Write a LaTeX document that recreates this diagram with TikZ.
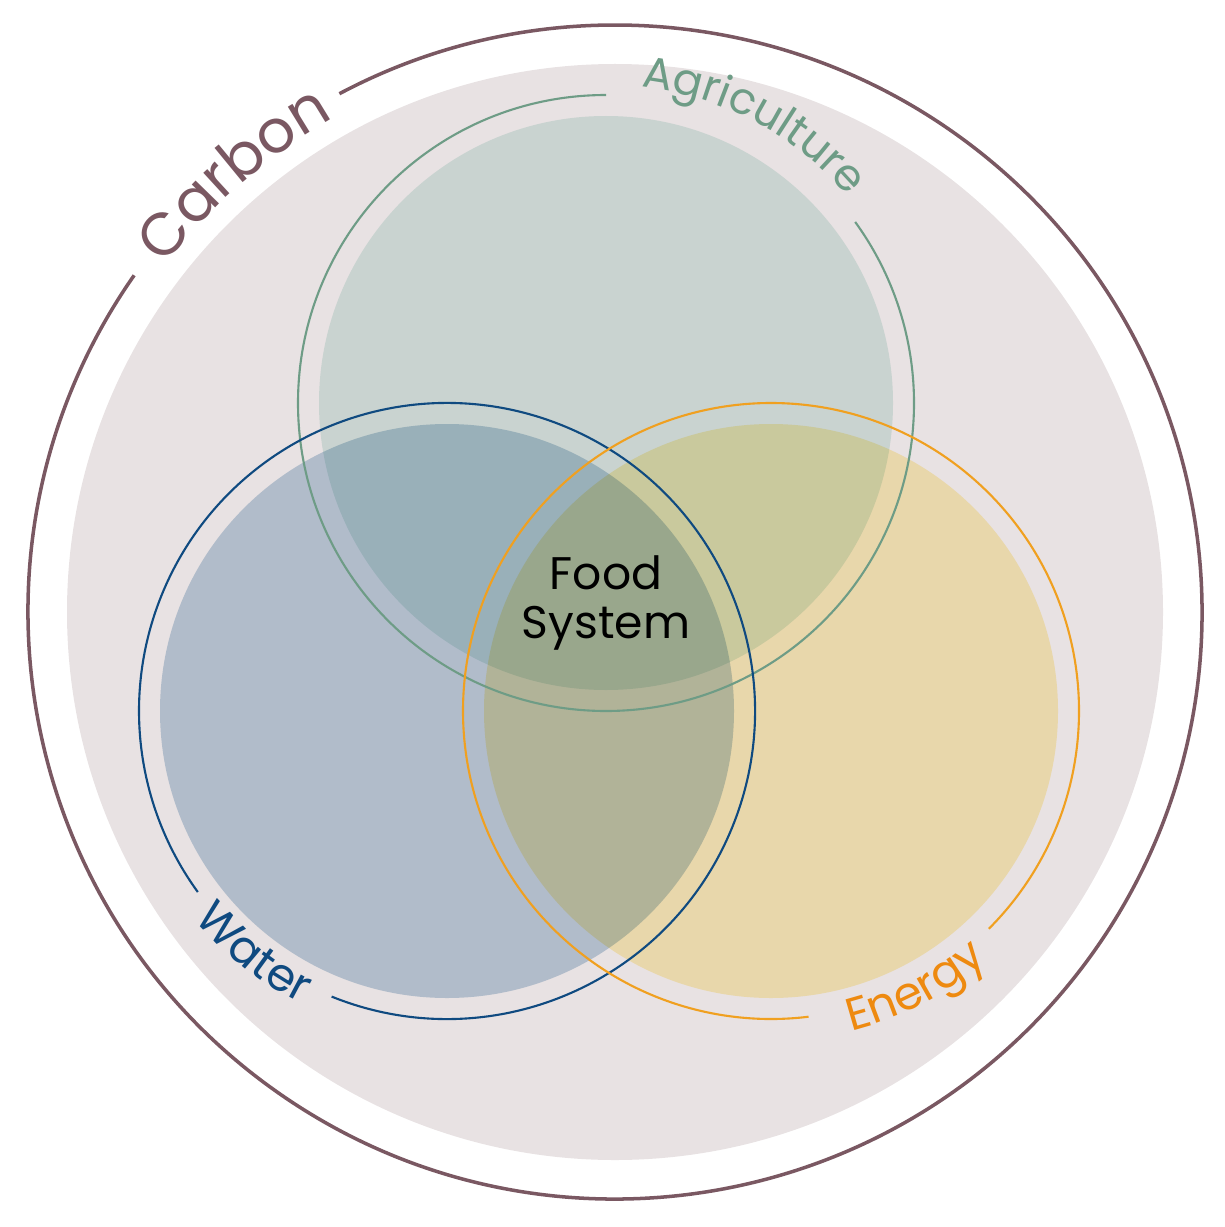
\documentclass[tikz,border=0pt]{standalone}
\usepackage{fontspec}
\setmainfont{Poppins}
\usetikzlibrary{decorations.text}
\definecolor{carbon}{HTML}{7A5862}
\definecolor{bgc}{HTML}{E8E2E3}
\definecolor{agri}{HTML}{6E9C86}
\definecolor{agrif}{HTML}{DEEFEA}
\definecolor{water}{HTML}{0F4A80}
\definecolor{waterf}{HTML}{C3D5E4}
\definecolor{energy}{HTML}{F0A020}
\definecolor{energyf}{HTML}{FFF3C1}
\definecolor{energyt}{HTML}{EE8A10}
\tikzset{
 blob/.style={blend mode=multiply},
 ring/.style={line width=0.6pt},
 curvetext/.style={decorate,decoration={text along path,text align=center,text={#1}}}
}
\begin{document}
\begin{tikzpicture}
\useasboundingbox (0,0) rectangle (12.24,-12.27);
\coordinate (C) at (6.15,-6.12);
\coordinate (A) at (6.06,-4.03);
\coordinate (W) at (4.47,-7.11);
\coordinate (E) at (7.71,-7.11);
\fill[bgc] (C) circle[radius=5.48];
\begin{scope}[blob]
\fill[agrif] (A) circle[radius=2.87];
\fill[waterf] (W) circle[radius=2.87];
\fill[energyf] (E) circle[radius=2.87];
\end{scope}
\draw[carbon,line width=1pt] (C) ++(145:5.87) arc[start angle=145,end angle=478,radius=5.87];
\draw[agri,ring] (A) ++(90:3.08) arc[start angle=90,end angle=396,radius=3.08];
\draw[water,ring] (W) ++(248:3.08) arc[start angle=248,end angle=576,radius=3.08];
\draw[energy,ring] (E) ++(315:3.08) arc[start angle=315,end angle=637,radius=3.08];
\path[curvetext={|\fontsize{17}{17}\selectfont\color{carbon}|Carbon}] (C) ++(150:5.68) arc[start angle=150,end angle=112,radius=5.68];
\path[curvetext={|\fontsize{12.5}{13}\selectfont\color{agri}|Agriculture}] (A) ++(92:3.18) arc[start angle=92,end angle=32,radius=3.18];
\path[curvetext={|\fontsize{13}{13}\selectfont\color{water}|Water}] (W) ++(205:3.27) arc[start angle=205,end angle=258,radius=3.27];
\path[curvetext={|\fontsize{13}{13}\selectfont\color{energyt}|Energy}] (E) ++(270:3.30) arc[start angle=270,end angle=325,radius=3.30];
\node[align=center,font=\fontsize{13}{14}\selectfont] (fs) at (6.06,-6.03) {Food\\System};
\end{tikzpicture}
\end{document}
